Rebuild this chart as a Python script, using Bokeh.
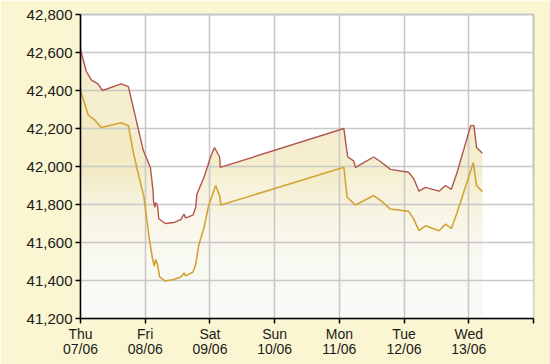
import numpy as np
from bokeh.plotting import figure
from bokeh.models import Range1d, FixedTicker, NumeralTickFormatter
from bokeh.embed import file_html
from bokeh.resources import INLINE

# x = days since Thu 07/06 00:00
day_labels = ["Thu\n07/06", "Fri\n08/06", "Sat\n09/06", "Sun\n10/06",
              "Mon\n11/06", "Tue\n12/06", "Wed\n13/06", ""]
y_ticks = [41200, 41400, 41600, 41800, 42000, 42200, 42400, 42600, 42800]

sell_t = [0.00, 0.09, 0.17, 0.27, 0.34, 0.63, 0.74, 0.97, 1.08, 1.12, 1.13, 1.15,
          1.16, 1.19, 1.21, 1.31, 1.44, 1.55, 1.60, 1.62, 1.67, 1.74, 1.78, 1.80,
          1.91, 2.01, 2.07, 2.15, 2.16, 4.07, 4.10, 4.13, 4.22, 4.25, 4.35, 4.53,
          4.64, 4.79, 5.07, 5.15, 5.23, 5.33, 5.54, 5.64, 5.73, 5.82, 6.03, 6.08,
          6.12, 6.21]
sell_v = [42615, 42500, 42455, 42435, 42400, 42435, 42420, 42085, 41995, 41875,
          41810, 41785, 41810, 41795, 41725, 41700, 41705, 41720, 41750, 41730,
          41735, 41745, 41785, 41855, 41945, 42050, 42100, 42050, 41995, 42200,
          42120, 42050, 42030, 41995, 42015, 42050, 42025, 41985, 41970, 41935,
          41870, 41890, 41870, 41900, 41880, 41970, 42215, 42215, 42100, 42070]

buy_t = [0.00, 0.12, 0.22, 0.32, 0.63, 0.74, 0.81, 0.88, 0.98, 1.06, 1.11, 1.14,
         1.16, 1.19, 1.22, 1.31, 1.44, 1.55, 1.60, 1.62, 1.67, 1.74, 1.78, 1.83,
         1.91, 1.98, 2.09, 2.15, 2.17, 4.07, 4.12, 4.25, 4.53, 4.64, 4.79, 5.07,
         5.15, 5.23, 5.33, 5.54, 5.64, 5.73, 5.82, 6.07, 6.12, 6.21]
buy_v = [42400, 42270, 42245, 42205, 42230, 42215, 42085, 41980, 41840, 41625,
         41520, 41475, 41510, 41485, 41420, 41397, 41405, 41418, 41440, 41425,
         41432, 41445, 41485, 41590, 41680, 41795, 41900, 41845, 41797, 41996,
         41838, 41797, 41847, 41820, 41776, 41764, 41723, 41662, 41688, 41662,
         41697, 41674, 41758, 42020, 41900, 41868]

Y0, Y1 = 41200, 42800

p = figure(width=550, height=364, output_backend="svg", toolbar_location=None,
           x_range=Range1d(0, 7), y_range=Range1d(Y0, Y1),
           min_border_left=80, min_border_right=17, min_border_top=14,
           min_border_bottom=46)
p.background_fill_color = "white"
p.border_fill_color = "#FAF6D2"
p.outline_line_color = "#C4C4C4"
p.outline_line_width = 2

# area fills (drawn below grid)
p.varea(x=sell_t, y1=[Y0] * len(sell_t), y2=sell_v, fill_color="#EDE0A6",
        fill_alpha=0.55, level="image")
p.varea(x=buy_t, y1=[Y0] * len(buy_t), y2=buy_v, fill_color="#EDE0A6",
        fill_alpha=0.2, level="image")
# vertical fade to white toward the bottom
levels = np.linspace(Y0 + 40, 41950, 16)
p.quad(left=0, right=7, bottom=Y0, top=levels, fill_color="white",
       fill_alpha=0.14, line_color=None, level="image")

p.line(sell_t, sell_v, line_color="#B0564E", line_width=1.4)
p.line(buy_t, buy_v, line_color="#D2A436", line_width=1.6)

p.xgrid.grid_line_color = "#C8C8C8"
p.ygrid.grid_line_color = "#C8C8C8"
p.xgrid.grid_line_width = 1.6
p.ygrid.grid_line_width = 1.6

p.xaxis.ticker = FixedTicker(ticks=list(range(8)))
p.xaxis.major_label_overrides = {i: s for i, s in enumerate(day_labels)}
p.yaxis.ticker = FixedTicker(ticks=y_ticks)
p.yaxis.formatter = NumeralTickFormatter(format="0,0")

for ax in (p.xaxis, p.yaxis):
    ax.axis_line_color = "black"
    ax.axis_line_width = 1.5
    ax.major_tick_line_color = "black"
    ax.major_tick_line_width = 1.5
    ax.major_tick_in = 0
    ax.major_tick_out = 5
    ax.minor_tick_line_color = None
    ax.major_label_text_font = "Liberation Sans"
    ax.major_label_text_color = "#1A1A1A"
p.yaxis.major_label_text_font_size = "15px"
p.xaxis.major_label_text_font_size = "14px"
p.xaxis.major_label_standoff = 2
p.yaxis.major_label_standoff = 3
p.xaxis.major_label_text_line_height = 0.95

open("out.html", "w").write(file_html(p, INLINE))
